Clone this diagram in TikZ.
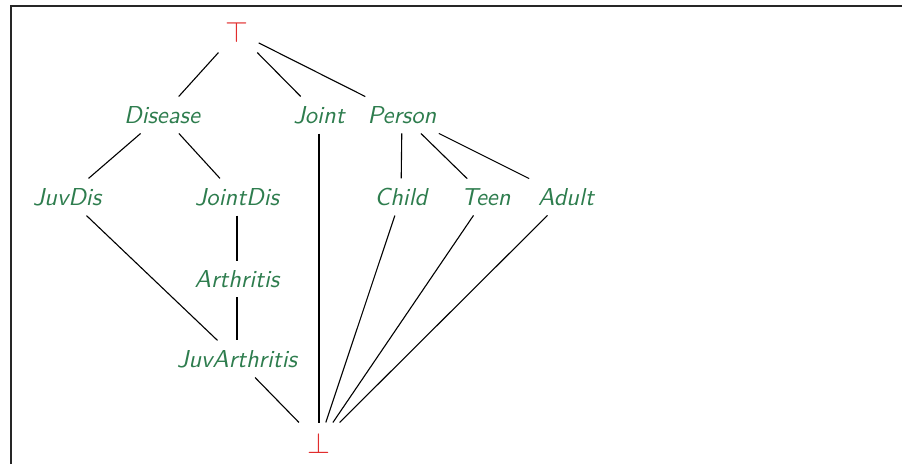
\documentclass[tikz,border=0pt]{standalone}
\definecolor{cgreen}{RGB}{46,125,78}
\definecolor{cred}{RGB}{225,45,45}
\begin{document}
\begin{tikzpicture}[x=0.408pt,y=-0.408pt,
  cls/.style={text=cgreen,font=\sffamily\itshape,inner sep=3.8pt},
  bnd/.style={text=cred,inner sep=4pt,font=\large},
  edge/.style={draw=black,line width=0.45pt}]
\useasboundingbox (0,0) rectangle (902,464);
\draw[line width=0.8pt,black!85] (11,464) -- (11,6) -- (902,6);
\node[bnd] (top) at (237,32) {$\top$};
\node[cls] (disease) at (162,115) {Disease};
\node[cls] (joint) at (319,115) {Joint};
\node[cls] (person) at (402,115) {Person};
\node[cls] (juvdis) at (67,197) {JuvDis};
\node[cls] (jointdis) at (237,197) {JointDis};
\node[cls] (child) at (401,197) {Child};
\node[cls] (teen) at (486,197) {Teen};
\node[cls] (adult) at (566,197) {Adult};
\node[cls] (arth) at (237,279) {Arthritis};
\node[cls] (juvarth) at (237,359) {JuvArthritis};
\node[bnd] (bot) at (319,443) {$\bot$};
\draw[edge] (top) -- (disease);
\draw[edge] (top) -- (joint);
\draw[edge] (top) -- (person);
\draw[edge] (disease) -- (juvdis);
\draw[edge] (disease) -- (jointdis);
\draw[edge] (person) -- (child);
\draw[edge] (person) -- (teen);
\draw[edge] (person) -- (adult);
\draw[edge] (jointdis) -- (arth);
\draw[edge] (arth) -- (juvarth);
\draw[edge] (juvdis) -- (juvarth);
\draw[edge] (juvarth) -- (bot);
\draw[edge] (joint) -- (bot);
\draw[edge] (child) -- (bot);
\draw[edge] (teen) -- (bot);
\draw[edge] (adult) -- (bot);
\end{tikzpicture}
\end{document}
